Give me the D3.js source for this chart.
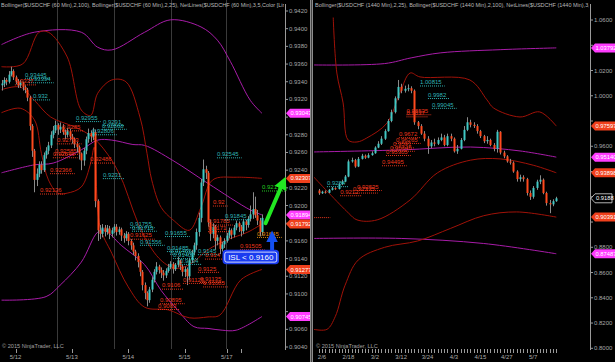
<!DOCTYPE html>
<html>
<head>
<meta charset="utf-8">
<script src="https://cdn.jsdelivr.net/npm/d3@7"></script>
<style>
  body { margin: 0; background: #000; }
  svg { display: block; }
  text { font-family: "Liberation Sans", Arial, sans-serif; }
</style>
</head>
<body>
<div id="wrapper"></div>
<script>
// ---------- left pane: USDCHF 60 min ----------
const leftFirstOpen = 0.9336
const leftClose = [0.9338,0.9342,0.9340,0.9348,0.9352,0.9345,0.9341,0.9336,0.9339,0.9334,
  0.9331,0.9322,0.9290,0.9262,0.9229,0.9236,0.9246,0.9240,0.9257,0.9262,
  0.9268,0.9280,0.9285,0.9291,0.9286,0.9289,0.9283,0.9280,0.9284,0.9278,
  0.9275,0.9270,0.9266,0.9259,0.9251,0.9262,0.9275,0.9282,0.9278,0.9283,
  0.9205,0.9172,0.9168,0.9175,0.9170,0.9174,0.9168,0.9172,0.9176,0.9170,
  0.9173,0.9166,0.9163,0.9168,0.9160,0.9155,0.9148,0.9143,0.9136,0.9125,
  0.9110,0.9101,0.9093,0.9105,0.9116,0.9125,0.9131,0.9127,0.9124,0.9121,
  0.9126,0.9130,0.9134,0.9128,0.9133,0.9138,0.9131,0.9125,0.9128,0.9120,
  0.9138,0.9147,0.9155,0.9170,0.9186,0.9226,0.9241,0.9237,0.9181,0.9168,
  0.9176,0.9160,0.9164,0.9151,0.9156,0.9160,0.9166,0.9172,0.9167,0.9175,
  0.9180,0.9176,0.9171,0.9182,0.9178,0.9185,0.9190,0.9196,0.9189,0.9183,
  0.9170,0.9186]
const leftHigh = [0.9342,0.9345,0.9344,0.9352,0.9357,0.9354,0.9347,0.9343,0.9342,0.9340,
  0.9336,0.9333,0.9324,0.9292,0.9264,0.9242,0.9250,0.9250,0.9260,0.9266,
  0.9272,0.9284,0.9290,0.9296,0.9293,0.9294,0.9292,0.9286,0.9288,0.9287,
  0.9281,0.9277,0.9272,0.9268,0.9260,0.9265,0.9278,0.9287,0.9285,0.9288,
  0.9286,0.9207,0.9178,0.9179,0.9178,0.9178,0.9177,0.9175,0.9179,0.9179,
  0.9176,0.9175,0.9169,0.9171,0.9170,0.9162,0.9158,0.9150,0.9146,0.9138,
  0.9127,0.9113,0.9103,0.9108,0.9119,0.9128,0.9136,0.9133,0.9130,0.9127,
  0.9129,0.9134,0.9137,0.9136,0.9135,0.9142,0.9139,0.9133,0.9131,0.9130,
  0.9141,0.9150,0.9158,0.9174,0.9192,0.9230,0.9252,0.9245,0.9239,0.9184,
  0.9180,0.9178,0.9167,0.9166,0.9159,0.9163,0.9169,0.9175,0.9174,0.9178,
  0.9183,0.9182,0.9178,0.9185,0.9184,0.9188,0.9200,0.9215,0.9210,0.9195,
  0.9186,0.9190]
const leftLow = [0.9330,0.9334,0.9336,0.9338,0.9346,0.9342,0.9337,0.9333,0.9333,0.9330,
  0.9327,0.9318,0.9285,0.9255,0.9215,0.9222,0.9232,0.9236,0.9238,0.9253,
  0.9258,0.9265,0.9276,0.9282,0.9280,0.9282,0.9280,0.9275,0.9277,0.9274,
  0.9270,0.9265,0.9260,0.9252,0.9240,0.9245,0.9258,0.9271,0.9272,0.9274,
  0.9198,0.9160,0.9162,0.9164,0.9165,0.9167,0.9162,0.9164,0.9169,0.9166,
  0.9167,0.9160,0.9158,0.9160,0.9155,0.9150,0.9144,0.9138,0.9130,0.9120,
  0.9104,0.9094,0.9086,0.9090,0.9102,0.9113,0.9122,0.9123,0.9118,0.9115,
  0.9118,0.9124,0.9128,0.9123,0.9126,0.9130,0.9127,0.9120,0.9119,0.9110,
  0.9116,0.9135,0.9144,0.9150,0.9165,0.9181,0.9222,0.9230,0.9176,0.9160,
  0.9163,0.9150,0.9155,0.9145,0.9148,0.9152,0.9158,0.9163,0.9162,0.9164,
  0.9172,0.9170,0.9165,0.9168,0.9172,0.9175,0.9182,0.9185,0.9186,0.9178,
  0.9165,0.9166]

// bollinger (100) in magenta, bollinger (25) in dark red -- [bar index, price]
const leftMagUpper = [[0,0.9382],[14,0.9396],[34,0.9396],[41,0.9379],[47,0.9376],[61,0.9396],[72,0.9410],[85,0.9402],[92,0.9387],[97.5,0.9363],[106,0.9319],[111,0.93043]]
const leftMagMid = [[0,0.9237],[14,0.9246],[22,0.9248],[34,0.9263],[41,0.9274],[47,0.9274],[56,0.9269],[61,0.9268],[73,0.9251],[88,0.9225],[106,0.9195],[111,0.91894]]
const leftMagLower = [[0,0.9093],[19,0.9097],[25,0.9110],[34,0.9136],[41,0.9170],[44,0.9172],[51,0.9155],[61,0.9133],[68,0.9104],[75,0.9082],[82,0.9063],[88,0.9061],[94,0.9059],[100,0.9059],[111,0.90745]]
const leftRedUpper = [[0,0.9357],[9,0.9360],[16,0.9396],[20,0.9396],[28,0.9368],[34,0.9308],[38,0.9302],[41,0.9327],[47,0.9342],[53,0.9340],[59,0.9300],[62,0.9259],[64,0.9229],[68,0.9198],[73,0.9184],[80,0.9172],[85,0.9198],[90,0.9229],[100,0.9232],[111,0.92307]]
const leftRedMid = [[0,0.9331],[8,0.9334],[14,0.9319],[21,0.9300],[31,0.9289],[39,0.9277],[47,0.9251],[52,0.9225],[56,0.9195],[61,0.9164],[68,0.9138],[74,0.9129],[80,0.9133],[88,0.9150],[96,0.9161],[105,0.9170],[111,0.91792]]
const leftRedLower = [[0,0.9305],[8,0.9310],[14,0.9297],[17,0.9259],[20,0.9229],[24,0.9214],[28,0.9214],[34,0.9221],[38,0.9248],[39.5,0.9266],[42,0.9176],[47,0.9146],[54,0.9108],[61,0.9085],[71,0.9082],[80,0.9073],[88,0.9074],[93,0.9076],[102,0.9116],[111,0.91277]]

// netlines text -- [bar index, level, colour]
const leftNetLabels = [
  [10.0,"0.93445","c"],[11.7,"0.93394","c"],[5.7,"0.9337","r"],[13.4,"0.932","c"],
  [31.7,"0.92955","c"],[43.2,"0.9291","c"],[42.8,"0.92868","c"],[38.6,"0.92806","c"],
  [23.6,"0.92703","r"],[22.8,"0.92585","r"],[21.9,"0.92546","r"],[20.7,"0.92366","r"],
  [16.4,"0.92136","r"],[37.7,"0.92486","r"],[43.2,"0.9231","c"],[25.8,"0.9285","r"],
  [54.8,"0.91755","c"],[55.6,"0.91715","c"],[54.8,"0.91625","r"],[59,"0.91556","c"],
  [91.8,"0.92545","c"],[111,"0.92170","g"],[90.1,"0.92","r"],[88,"0.91785","r"],
  [88,"0.9171","r"],[95.2,"0.91845","c"],[69.7,"0.91655","c"],[108.9,"0.91645","o"],
  [101.6,"0.91505","r"],[70.5,"0.91485","c"],[71.8,"0.91455","c"],[73.1,"0.91405","c"],
  [83.7,"0.9145","c"],[86.7,"0.914","r"],[76.1,"0.9134","c"],[83.7,"0.9125","r"],
  [77.3,"0.91125","r"],[84.6,"0.91135","r"],[85.9,"0.91085","r"],[68.4,"0.9106","r"],
  [67.5,"0.90895","r"],[66.7,"0.9083","r"]]

const leftMarkers = [[0.93043,"m"],[0.92307,"r"],[0.91894,"m"],[0.91792,"r"],[0.91277,"r"],[0.90745,"m"]]
const leftDaySplits = [23.8, 47.9, 72.1, 95.8]
const leftTickIdx = [6, 30, 54, 78, 96, 102]
const leftTickText = ["5/12", "5/13", "5/14", "5/15", "5/17", ""]

// ---------- right pane: USDCHF daily ----------
const rightFirstOpen = 0.9250
const rightClose = [0.9228,0.9240,0.9232,0.9255,0.9268,0.9262,0.9300,0.9320,0.9360,0.9480,
  0.9490,0.9440,0.9500,0.9525,0.9510,0.9530,0.9545,0.9590,0.9620,0.9660,
  0.9720,0.9800,0.9870,0.9980,1.0070,1.0040,1.0055,1.0060,1.0040,0.9790,
  0.9760,0.9700,0.9660,0.9600,0.9630,0.9620,0.9650,0.9670,0.9610,0.9680,
  0.9660,0.9560,0.9580,0.9650,0.9730,0.9790,0.9770,0.9760,0.9720,0.9680,
  0.9640,0.9650,0.9610,0.9580,0.9715,0.9550,0.9520,0.9480,0.9470,0.9400,
  0.9340,0.9355,0.9340,0.9230,0.9200,0.9270,0.9320,0.9335,0.9230,0.9150,
  0.9140,0.9165,0.9188]
const rightHigh = [0.9262,0.9248,0.9250,0.9262,0.9278,0.9275,0.9310,0.9335,0.9372,0.9495,
  0.9510,0.9500,0.9515,0.9540,0.9535,0.9545,0.9560,0.9600,0.9640,0.9680,
  0.9735,0.9815,0.9890,0.9995,1.0125,1.0095,1.0080,1.0090,1.0075,1.0050,
  0.9800,0.9775,0.9720,0.9680,0.9650,0.9660,0.9670,0.9700,0.9690,0.9700,
  0.9700,0.9670,0.9610,0.9665,0.9760,0.9830,0.9810,0.9790,0.9775,0.9730,
  0.9690,0.9680,0.9660,0.9625,0.9730,0.9720,0.9565,0.9530,0.9500,0.9480,
  0.9410,0.9375,0.9370,0.9350,0.9250,0.9285,0.9335,0.9370,0.9345,0.9240,
  0.9175,0.9180,0.9200]
const rightLow = [0.9215,0.9222,0.9225,0.9228,0.9250,0.9255,0.9258,0.9292,0.9315,0.9355,
  0.9470,0.9430,0.9435,0.9495,0.9500,0.9505,0.9525,0.9540,0.9585,0.9610,
  0.9650,0.9715,0.9790,0.9860,0.9965,1.0020,1.0025,1.0035,1.0020,0.9770,
  0.9735,0.9690,0.9640,0.9540,0.9585,0.9600,0.9610,0.9640,0.9600,0.9600,
  0.9640,0.9550,0.9540,0.9575,0.9640,0.9720,0.9750,0.9745,0.9700,0.9665,
  0.9625,0.9620,0.9600,0.9560,0.9550,0.9535,0.9505,0.9470,0.9455,0.9390,
  0.9320,0.9320,0.9320,0.9210,0.9175,0.9185,0.9255,0.9300,0.9220,0.9130,
  0.9070,0.9125,0.9160]

const rightMagUpper = [[-1.5,1.0244],[20,1.0255],[28,1.0300],[37,1.0340],[55,1.0365],[72,1.03792]]
const rightMagMid = [[-1.5,0.9555],[25,0.9571],[46,0.9594],[61,0.9563],[72,0.95140]]
const rightMagLower = [[-1.5,0.8870],[25,0.8870],[50,0.8830],[72,0.87487]]
const rightRedUpper = [[4.4,1.0620],[5.5,1.018],[7.4,0.9943],[8.9,0.965],[11.6,0.9634],[14.6,0.9666],[20.7,0.9784],[24.6,1.0022],[27.7,1.018],[30.7,1.0149],[45.8,1.0125],[51,0.9967],[53,0.9903],[61,0.9832],[67,0.9872],[72,0.97597]]
const rightRedMid = [[-1.5,0.9357],[9,0.9072],[11.6,0.9017],[17.7,0.9017],[27.7,0.9175],[36,0.9390],[46,0.9490],[55,0.9500],[65,0.9450],[72,0.93898]]
const rightRedLower = [[-1.5,0.8150],[2.5,0.8150],[5,0.8250],[8,0.8500],[12,0.8700],[20,0.8800],[30,0.8850],[40,0.8950],[50,0.9050],[60,0.9080],[72,0.90391]]

const rightNetLabels = [
  [30.7,"1.00815","c"],[33.1,"0.9982","c"],[34.3,"0.99045","c"],[26.6,"0.98535","r"],
  [26.6,"0.9837","r"],[24.3,"0.9672","r"],[23.4,"0.96265","r"],[22.5,"0.9591","r"],
  [21.6,"0.95645","r"],[20.4,"0.95305","r"],[19.2,"0.94495","r"],[11.6,"0.92535","r"],
  [10.4,"0.92335","r"],[6.5,"0.9212","r"],[2.5,"0.9284","c"]]
// a netline whose text sits off the left edge, only its dotted tail shows
const rightCutLine = [[-4.5, 3.5, 0.9039]]

const rightMarkers = [[1.03792,"m"],[0.97597,"r"],[0.95140,"m"],[0.93898,"r"],[0.90391,"r"],[0.87487,"m"]]
const rightLast = 0.9188
const rightTickIdx = [1, 9, 17, 25, 33, 41, 49, 57, 65]
const rightTickText = ["2/6", "2/18", "3/2", "3/12", "3/24", "4/3", "4/15", "4/27", "5/7"]

// colours
const col = {
  c: "#2fb4b4", r: "#e8361c", g: "#22cc22", o: "#e08a10",
  m: "#ff30ff", up: "#40c8c4", down: "#ff4a1e", wick: "#8a8a8a",
  magLine: "#a81ca8", redLine: "#a01208", grid: "#3a3a3a", axis: "#9a9a9a"
}

let dimensions = { width: 615, height: 362 }

const wrapper = d3.select("#wrapper")
  .append("svg")
    .attr("width", dimensions.width)
    .attr("height", dimensions.height)
    .style("background", "#000")

const defs = wrapper.append("defs")

function drawPane(opt) {
  const g = wrapper.append("g")
  const clipId = "clip" + opt.name
  defs.append("clipPath").attr("id", clipId)
    .append("rect").attr("x", opt.x0).attr("y", 0)
    .attr("width", opt.axisX - opt.x0).attr("height", 348)

  const xScale = d3.scaleLinear().domain(opt.idxDomain).range(opt.xRange)
  const yScale = d3.scaleLinear().domain(opt.priceDomain).range(opt.yRange)

  // gridlines between days
  g.selectAll(".split").data(opt.splits || []).join("line")
    .attr("x1", d => Math.round(xScale(d)) + 0.5).attr("x2", d => Math.round(xScale(d)) + 0.5)
    .attr("y1", 0).attr("y2", 349)
    .attr("stroke", col.grid).attr("stroke-width", 1)

  const plot = g.append("g").attr("clip-path", `url(#${clipId})`)

  // bands
  const lineGen = d3.line()
    .x(d => xScale(d[0]))
    .y(d => yScale(d[1]))
    .curve(d3.curveCatmullRom.alpha(0.5))
  opt.bands.forEach(b => {
    plot.append("path")
      .attr("d", lineGen(b.pts))
      .attr("fill", "none")
      .attr("stroke", b.color)
      .attr("stroke-width", 1)
  })

  // candles, open = previous close
  const candles = opt.close.map((c, i) => ({
    i, c, o: i === 0 ? opt.firstOpen : opt.close[i - 1], h: opt.high[i], l: opt.low[i]
  }))
  plot.selectAll(".wick").data(candles).join("line")
    .attr("x1", d => Math.round(xScale(d.i)) + 0.5)
    .attr("x2", d => Math.round(xScale(d.i)) + 0.5)
    .attr("y1", d => yScale(d.h)).attr("y2", d => yScale(d.l))
    .attr("stroke", col.wick).attr("stroke-width", 1)
  plot.selectAll(".body").data(candles).join("rect")
    .attr("x", d => Math.round(xScale(d.i)) - opt.bodyW / 2 + 0.5)
    .attr("width", opt.bodyW)
    .attr("y", d => yScale(Math.max(d.o, d.c)))
    .attr("height", d => Math.max(1, Math.abs(yScale(d.o) - yScale(d.c))))
    .attr("fill", d => d.c >= d.o ? col.up : col.down)

  // netline labels with dotted underline
  opt.labels.forEach(([i, t, k]) => {
    const x = xScale(i), y = yScale(+t)
    const txt = plot.append("text")
      .attr("x", x).attr("y", y - 1.2)
      .attr("fill", col[k]).attr("font-size", 6)
      .text(t)
    const w = txt.node().getComputedTextLength()
    plot.append("line")
      .attr("x1", x).attr("x2", x + w + 3)
      .attr("y1", y + 0.5).attr("y2", y + 0.5)
      .attr("stroke", col[k]).attr("stroke-width", 1)
      .attr("stroke-dasharray", "1,1")
  })
  ;(opt.cutLines || []).forEach(([i0, i1, v]) => {
    plot.append("line")
      .attr("x1", xScale(i0)).attr("x2", xScale(i1))
      .attr("y1", yScale(v) + 0.5).attr("y2", yScale(v) + 0.5)
      .attr("stroke", col.r).attr("stroke-dasharray", "1,1")
  })

  // y axis
  g.append("line")
    .attr("x1", opt.axisX + 0.5).attr("x2", opt.axisX + 0.5)
    .attr("y1", 4).attr("y2", 350)
    .attr("stroke", col.axis)
  // tick labels sitting right under a marker box are hidden by it
  const covered = opt.markers.map(m => m[0]).concat(opt.extraMarks || [])
  const yTicks = d3.range(opt.tickStart, opt.tickEnd + opt.tickStep / 2, opt.tickStep)
  const tk = g.selectAll(".ytick").data(yTicks).join("g")
    .attr("transform", d => `translate(${opt.axisX},${yScale(d)})`)
  tk.append("line").attr("x1", 0).attr("x2", 3).attr("stroke", col.axis)
  tk.filter(d => !covered.some(v => Math.abs(yScale(v) - yScale(d)) < 6))
    .append("text").attr("x", 4).attr("y", 2)
    .attr("fill", "#a8a8a8").attr("font-size", 6)
    .text(d => d3.format(".4f")(d))

  // price markers on the axis
  opt.markers.forEach(([v, k]) => {
    const y = yScale(v), x = opt.axisX + 1
    wrapper.append("path")
      .attr("d", `M${x},${y} L${x + 4},${y - 4.5} L${x + 24},${y - 4.5} L${x + 24},${y + 4.5} L${x + 4},${y + 4.5} Z`)
      .attr("fill", k === "m" ? "#ff3cff" : "#f0401c")
    wrapper.append("text")
      .attr("x", x + 4.5).attr("y", y + 2.1)
      .attr("fill", "#fff").attr("font-size", 5.8)
      .text(d3.format(".5f")(v))
  })

  // x axis ticks and dates
  g.selectAll(".xt").data(opt.minorTicks).join("line")
    .attr("x1", d => Math.round(xScale(d)) + 0.5).attr("x2", d => Math.round(xScale(d)) + 0.5)
    .attr("y1", 349).attr("y2", 353)
    .attr("stroke", col.axis)
  g.selectAll(".xl").data(opt.tickIdx).join("text")
    .attr("x", d => xScale(d)).attr("y", 359)
    .attr("text-anchor", "middle")
    .attr("fill", "#a8a8a8").attr("font-size", 6)
    .text((d, i) => opt.tickText[i])

  // title, cut at the axis like the platform does
  const tClip = "tclip" + opt.name
  defs.append("clipPath").attr("id", tClip)
    .append("rect").attr("x", opt.x0).attr("y", 0).attr("width", opt.axisX - opt.x0 - 1).attr("height", 12)
  g.append("text").attr("x", opt.x0 + 1).attr("y", 7)
    .attr("clip-path", `url(#${tClip})`)
    .attr("fill", "#b8b8b8").attr("font-size", 5.5)
    .text(opt.title)
  g.append("text").attr("x", opt.x0 + 2).attr("y", 348)
    .attr("fill", "#a0a0a0").attr("font-size", 5.6)
    .text("© 2015 NinjaTrader, LLC")

  return { xScale, yScale }
}

const left = drawPane({
  name: "L", x0: 0, axisX: 285,
  idxDomain: [0, 111], xRange: [1.5, 262],
  priceDomain: [0.9040, 0.9420], yRange: [347, 11],
  tickStart: 0.9040, tickEnd: 0.9420, tickStep: 0.002,
  firstOpen: leftFirstOpen, close: leftClose, high: leftHigh, low: leftLow, bodyW: 2,
  bands: [
    { pts: leftMagUpper, color: col.magLine }, { pts: leftMagMid, color: col.magLine }, { pts: leftMagLower, color: col.magLine },
    { pts: leftRedUpper, color: col.redLine }, { pts: leftRedMid, color: col.redLine }, { pts: leftRedLower, color: col.redLine }
  ],
  labels: leftNetLabels, markers: leftMarkers, splits: leftDaySplits,
  minorTicks: leftTickIdx, tickIdx: leftTickIdx, tickText: leftTickText,
  title: "Bollinger($USDCHF (60 Min),2,100), Bollinger($USDCHF (60 Min),2,25), NetLines($USDCHF (60 Min),3,5,Color [Lime],Co"
})

const right = drawPane({
  name: "R", x0: 314, axisX: 590,
  idxDomain: [0, 72], xRange: [318.7, 556.3],
  priceDomain: [0.80, 1.06], yRange: [348.3, 20],
  tickStart: 0.80, tickEnd: 1.06, tickStep: 0.02,
  firstOpen: rightFirstOpen, close: rightClose, high: rightHigh, low: rightLow, bodyW: 2,
  bands: [
    { pts: rightMagUpper, color: col.magLine }, { pts: rightMagMid, color: col.magLine }, { pts: rightMagLower, color: col.magLine },
    { pts: rightRedUpper, color: col.redLine }, { pts: rightRedMid, color: col.redLine }, { pts: rightRedLower, color: col.redLine }
  ],
  labels: rightNetLabels, cutLines: rightCutLine, markers: rightMarkers, extraMarks: [rightLast], splits: [],
  minorTicks: d3.range(0, 73), tickIdx: rightTickIdx, tickText: rightTickText,
  title: "Bollinger($USDCHF (1440 Min),2,25), Bollinger($USDCHF (1440 Min),2,100), NetLines($USDCHF (1440 Min),3,5,Col"
})

// last price box on the daily axis
const lastY = right.yScale(rightLast)
wrapper.append("path")
  .attr("d", `M591,${lastY} L595,${lastY - 4.5} L612,${lastY - 4.5} L612,${lastY + 4.5} L595,${lastY + 4.5} Z`)
  .attr("fill", "#000").attr("stroke", "#ddd").attr("stroke-width", 0.8)
wrapper.append("text").attr("x", 596).attr("y", lastY + 2.1)
  .attr("fill", "#fff").attr("font-size", 5.8).text(rightLast.toFixed(4))

// pane divider
wrapper.append("rect").attr("x", 310).attr("y", 0).attr("width", 3).attr("height", 362).attr("fill", "#8c8c8c")
wrapper.append("rect").attr("x", 311).attr("y", 0).attr("width", 1).attr("height", 362).attr("fill", "#444")

// hand drawn annotations on the hourly pane
const xL = left.xScale, yL = left.yScale
const gArrowStart = [112.5, 0.9180], gArrowEnd = [120, 0.9226]
defs.append("marker").attr("id", "gh").attr("viewBox", "0 0 10 10")
  .attr("refX", 5).attr("refY", 5).attr("markerWidth", 3.2).attr("markerHeight", 3.2).attr("orient", "auto")
  .append("path").attr("d", "M0,0 L10,5 L0,10 Z").attr("fill", "#22e822")
wrapper.append("line")
  .attr("x1", xL(gArrowStart[0])).attr("y1", yL(gArrowStart[1]))
  .attr("x2", xL(gArrowEnd[0])).attr("y2", yL(gArrowEnd[1]))
  .attr("stroke", "#22e822").attr("stroke-width", 4).attr("stroke-linecap", "round")
  .attr("marker-end", "url(#gh)")

defs.append("marker").attr("id", "bh").attr("viewBox", "0 0 10 10")
  .attr("refX", 5).attr("refY", 5).attr("markerWidth", 3).attr("markerHeight", 3).attr("orient", "auto")
  .append("path").attr("d", "M0,0 L10,5 L0,10 Z").attr("fill", "#1450f0")
wrapper.append("line")
  .attr("x1", xL(115.3)).attr("y1", yL(0.9143))
  .attr("x2", xL(115.3)).attr("y2", yL(0.9165))
  .attr("stroke", "#1450f0").attr("stroke-width", 4)
  .attr("marker-end", "url(#bh)")

const islX = xL(94.5), islY = yL(0.9149)
wrapper.append("rect").attr("x", islX).attr("y", islY).attr("width", 55).attr("height", 13)
  .attr("rx", 3).attr("fill", "#1a3cf0").attr("stroke", "#1a3cf0").attr("stroke-width", 1.5)
wrapper.append("rect").attr("x", islX + 1.5).attr("y", islY + 1.5).attr("width", 52).attr("height", 10)
  .attr("rx", 2).attr("fill", "none").attr("stroke", "#fff").attr("stroke-width", 0.8)
wrapper.append("text").attr("x", islX + 27.5).attr("y", islY + 9.6)
  .attr("text-anchor", "middle").attr("fill", "#fff").attr("font-size", 8)
  .text("ISL < 0.9160")
</script>
</body>
</html>
